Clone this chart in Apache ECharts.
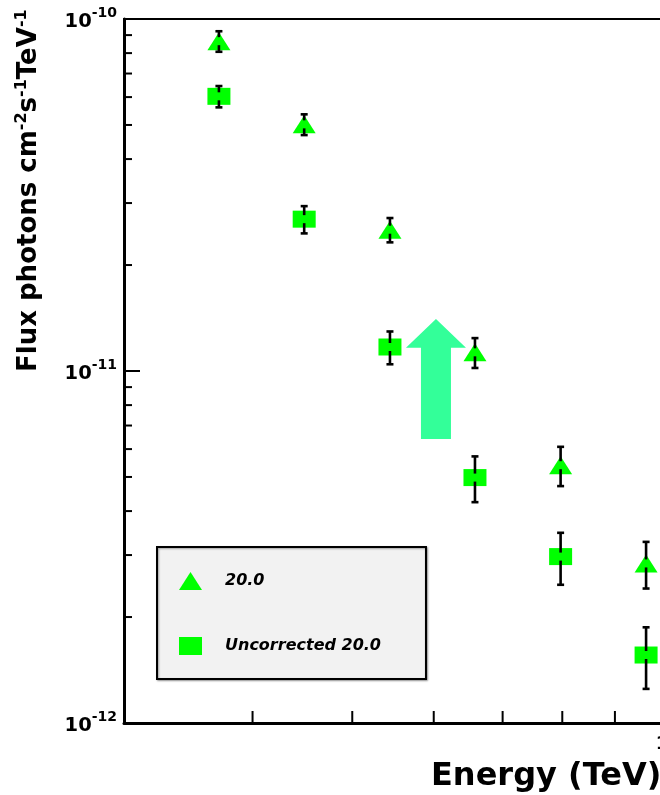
<!DOCTYPE html>
<html>
<head>
<meta charset="utf-8">
<script src="https://cdn.jsdelivr.net/npm/echarts@6/dist/echarts.min.js"></script>
<style>
  html, body { margin: 0; padding: 0; background: #fff; overflow: hidden; }
  #chart { width: 700px; height: 795px; }
</style>
</head>
<body>
<div id="chart"></div>
<script>
// Differential flux points, energies in TeV
const energies = [0.371, 0.449, 0.544, 0.658, 0.797, 0.965];
const flux20 = [8.65e-11, 5.02e-11, 2.52e-11, 1.13e-11, 5.40e-12, 2.84e-12];
const err20 = [0.58e-11, 0.34e-11, 0.20e-11, 0.11e-11, 0.69e-12, 0.43e-12];
const fluxUncorr = [6.03e-11, 2.70e-11, 1.17e-11, 4.98e-12, 2.97e-12, 1.56e-12];
const errUncorr = [0.42e-11, 0.24e-11, 0.125e-11, 0.74e-12, 0.50e-12, 0.31e-12];

// Axis ranges and minor tick values
const energyMin = 0.3, energyMax = 1.0;
const fluxMin = 1e-12, fluxMax = 1e-10;
const energyMinorTicks = [0.4, 0.5, 0.6, 0.7, 0.8, 0.9];
const fluxMinorTicks = [2e-12, 3e-12, 4e-12, 5e-12, 6e-12, 7e-12, 8e-12, 9e-12,
                        2e-11, 3e-11, 4e-11, 5e-11, 6e-11, 7e-11, 8e-11, 9e-11];

// Upward arrow annotation: energy, tip flux, head-base flux, tail flux
const arrowSpec = [0.603, 1.405e-11, 1.165e-11, 6.41e-12];

const FONT = 'DejaVu Sans';

const chart = echarts.init(document.getElementById('chart'), null, { renderer: 'canvas' });

function errorBarItem(params, api) {
  const x = api.value(0), y = api.value(1), e = api.value(2);
  const c = api.coord([x, y]);
  const t = api.coord([x, y + e]);
  const b = api.coord([x, y - e]);
  const gap = 4, cap = 3.5;
  const style = { stroke: '#000', lineWidth: 2.6 };
  return {
    type: 'group',
    children: [
      { type: 'line', shape: { x1: c[0], y1: t[1], x2: c[0], y2: c[1] - gap }, style },
      { type: 'line', shape: { x1: c[0], y1: c[1] + gap, x2: c[0], y2: b[1] }, style },
      { type: 'line', shape: { x1: c[0] - cap, y1: t[1], x2: c[0] + cap, y2: t[1] }, style },
      { type: 'line', shape: { x1: c[0] - cap, y1: b[1], x2: c[0] + cap, y2: b[1] }, style }
    ]
  };
}

chart.setOption({
  animation: false,
  backgroundColor: '#fff',
  grid: {
    left: 124, right: 38, top: 19, bottom: 72,
    show: true, borderColor: '#000', borderWidth: 2, backgroundColor: 'transparent'
  },
  legend: {
    data: ['20.0', 'Uncorrected 20.0'],
    orient: 'vertical',
    left: 157, top: 547,
    itemWidth: 23, itemHeight: 18, itemGap: 47,
    symbolKeepAspect: false,
    padding: [25, 45, 24, 22],
    backgroundColor: '#f2f2f2',
    borderColor: '#000', borderWidth: 2,
    shadowColor: 'rgba(0,0,0,0.35)', shadowBlur: 2, shadowOffsetX: 1, shadowOffsetY: 1,
    selectedMode: false,
    itemStyle: { opacity: 1 },
    textStyle: {
      fontFamily: FONT, fontSize: 16, fontStyle: 'italic', fontWeight: 'bold',
      color: '#000', padding: [0, 0, 0, 18]
    }
  },
  xAxis: {
    type: 'log', logBase: 10, min: energyMin, max: energyMax,
    axisLine: { show: true, lineStyle: { color: '#000', width: 3 } },
    axisTick: { show: false },
    splitLine: { show: false },
    axisLabel: {
      showMinLabel: false, showMaxLabel: true, margin: 12,
      fontFamily: FONT, fontWeight: 'bold', fontSize: 18, color: '#000',
      formatter: v => (Math.abs(v - 1) < 1e-6 ? '1' : '')
    }
  },
  yAxis: {
    type: 'log', logBase: 10, min: fluxMin, max: fluxMax,
    axisLine: { show: true, lineStyle: { color: '#000', width: 3 } },
    axisTick: { show: true, inside: true, length: 16, lineStyle: { color: '#000', width: 2 } },
    splitLine: { show: false },
    axisLabel: {
      margin: 7,
      formatter: v => '{b|10}{s|' + Math.round(Math.log10(v)) + '}',
      rich: {
        b: { fontFamily: FONT, fontWeight: 'bold', fontSize: 19.5, color: '#000', lineHeight: 26, padding: [6, 0, 0, 0] },
        s: { fontFamily: FONT, fontWeight: 'bold', fontSize: 14, color: '#000', verticalAlign: 'top', lineHeight: 16 }
      }
    }
  },
  graphic: [
    {
      type: 'text', x: 29, y: 372, rotation: Math.PI / 2,
      style: {
        text: '{b|Flux photons cm}{s|-2}{b|s}{s|-1}{b|TeV}{s|-1}',
        align: 'left', verticalAlign: 'middle',
        rich: {
          b: { fontFamily: FONT, fontWeight: 'bold', fontSize: 26, fill: '#000', lineHeight: 30 },
          s: { fontFamily: FONT, fontWeight: 'bold', fontSize: 16, fill: '#000', verticalAlign: 'top', lineHeight: 18 }
        }
      }
    },
    {
      type: 'text', x: 431, y: 777,
      style: {
        text: 'Energy (TeV)', fontFamily: FONT, fontWeight: 'bold', fontSize: 32,
        fill: '#000', align: 'left', verticalAlign: 'middle'
      }
    }
  ],
  series: [
    {
      name: 'arrow', type: 'custom', silent: true, z: 1,
      data: [arrowSpec],
      encode: { x: 0, y: 1 },
      renderItem: (params, api) => {
        const ex = api.value(0);
        const tip = api.coord([ex, api.value(1)]);
        const head = api.coord([ex, api.value(2)]);
        const tail = api.coord([ex, api.value(3)]);
        const hw = 30, sw = 15, x = tip[0];
        return {
          type: 'polygon',
          shape: { points: [
            [x, tip[1]], [x + hw, head[1]], [x + sw, head[1]], [x + sw, tail[1]],
            [x - sw, tail[1]], [x - sw, head[1]], [x - hw, head[1]]
          ] },
          style: { fill: '#33ff99' }
        };
      }
    },
    {
      name: 'yMinorTicks', type: 'custom', silent: true, z: 5,
      data: fluxMinorTicks.map(v => [energyMin, v]),
      renderItem: (params, api) => {
        const p = api.coord([api.value(0), api.value(1)]);
        return { type: 'line', shape: { x1: p[0], y1: p[1], x2: p[0] + 8, y2: p[1] }, style: { stroke: '#000', lineWidth: 2 } };
      }
    },
    {
      name: 'xMinorTicks', type: 'custom', silent: true, z: 5,
      data: energyMinorTicks.map(v => [v, fluxMin]),
      renderItem: (params, api) => {
        const p = api.coord([api.value(0), api.value(1)]);
        return { type: 'line', shape: { x1: p[0], y1: p[1], x2: p[0], y2: p[1] - 12 }, style: { stroke: '#000', lineWidth: 2 } };
      }
    },
    {
      name: '20.0', type: 'scatter', z: 3,
      symbol: 'triangle', symbolSize: [23, 18],
      itemStyle: { color: '#00ff00', opacity: 1 },
      data: energies.map((e, i) => [e, flux20[i]])
    },
    {
      name: 'Uncorrected 20.0', type: 'scatter', z: 3,
      symbol: 'rect', symbolSize: [23, 17],
      itemStyle: { color: '#00ff00', opacity: 1 },
      data: energies.map((e, i) => [e, fluxUncorr[i]])
    },
    {
      name: 'err20', type: 'custom', silent: true, z: 4,
      data: energies.map((e, i) => [e, flux20[i], err20[i]]),
      encode: { x: 0, y: 1 },
      renderItem: errorBarItem
    },
    {
      name: 'errUncorr', type: 'custom', silent: true, z: 4,
      data: energies.map((e, i) => [e, fluxUncorr[i], errUncorr[i]]),
      encode: { x: 0, y: 1 },
      renderItem: errorBarItem
    }
  ]
});
</script>
</body>
</html>
